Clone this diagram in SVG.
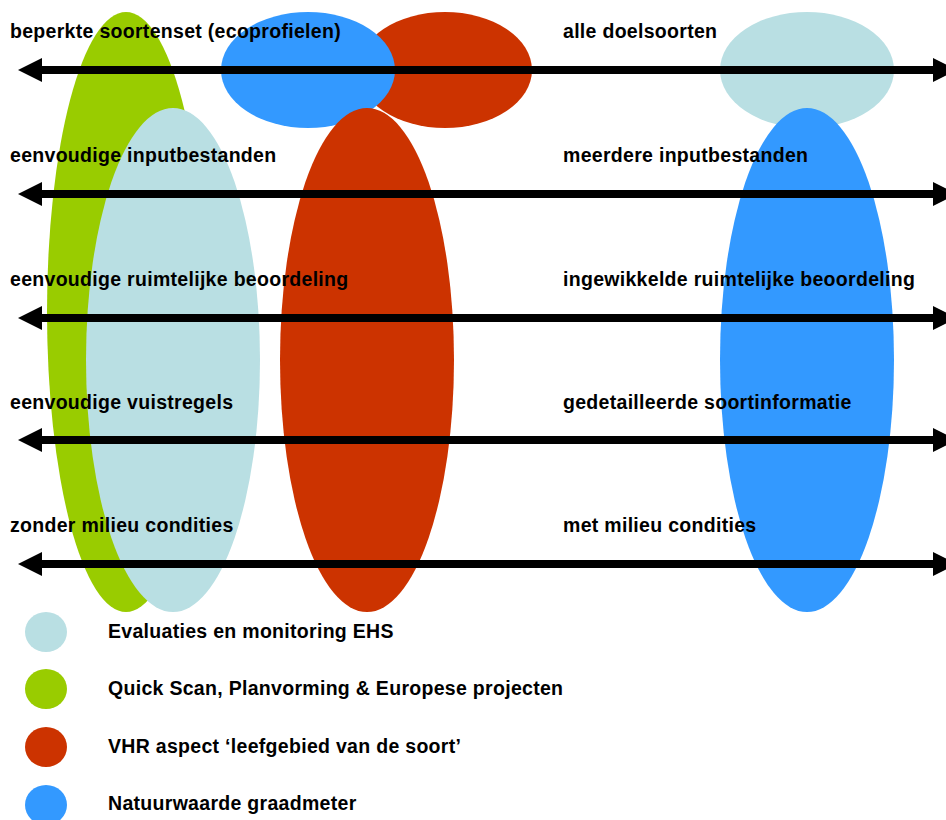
<svg xmlns="http://www.w3.org/2000/svg" width="946" height="820" viewBox="0 0 946 820">
<defs>
<style>
.t{font-family:"Liberation Sans",Arial,sans-serif;font-weight:bold;font-size:19.5px;letter-spacing:0.3px;fill:#000}
.ax{stroke:#000;stroke-width:8;fill:none}
.lb{fill:#B9DFE3}.gr{fill:#99CC00}.rd{fill:#CC3300}.bl{fill:#3399FF}
</style>
<marker id="ah" viewBox="0 0 24 24" refX="2" refY="12" markerWidth="24" markerHeight="24" markerUnits="userSpaceOnUse" orient="auto-start-reverse">
<path d="M0,0 L24,12 L0,24 z" fill="#000"/>
</marker>
</defs>
<rect width="946" height="820" fill="#fff"/>
<g id="quickscan"><ellipse class="gr" cx="126" cy="312" rx="79" ry="300"/></g>
<g id="evaluaties"><ellipse class="lb" cx="173" cy="360" rx="87" ry="252"/></g>
<g id="vhr-top"><ellipse class="rd" cx="445" cy="70" rx="87" ry="58"/></g>
<g id="ngm-top"><ellipse class="bl" cx="308" cy="70" rx="87" ry="58"/></g>
<g id="vhr"><ellipse class="rd" cx="367" cy="360" rx="87" ry="252"/></g>
<g id="eval-top"><ellipse class="lb" cx="807" cy="70" rx="87" ry="58"/></g>
<g id="ngm"><ellipse class="bl" cx="807" cy="360" rx="87" ry="252"/></g>
<g id="connectors">
<line class="ax" x1="40" y1="70" x2="935" y2="70" marker-start="url(#ah)" marker-end="url(#ah)"/>
<line class="ax" x1="40" y1="194" x2="935" y2="194" marker-start="url(#ah)" marker-end="url(#ah)"/>
<line class="ax" x1="40" y1="318" x2="935" y2="318" marker-start="url(#ah)" marker-end="url(#ah)"/>
<line class="ax" x1="40" y1="440" x2="935" y2="440" marker-start="url(#ah)" marker-end="url(#ah)"/>
<line class="ax" x1="40" y1="564" x2="935" y2="564" marker-start="url(#ah)" marker-end="url(#ah)"/>
</g>
<g id="labels">
<text class="t" x="10" y="38">beperkte soortenset (ecoprofielen)</text>
<text class="t" x="563" y="38">alle doelsoorten</text>
<text class="t" x="10" y="162">eenvoudige inputbestanden</text>
<text class="t" x="563" y="162">meerdere inputbestanden</text>
<text class="t" x="10" y="286">eenvoudige ruimtelijke beoordeling</text>
<text class="t" x="563" y="286">ingewikkelde ruimtelijke beoordeling</text>
<text class="t" x="10" y="409">eenvoudige vuistregels</text>
<text class="t" x="563" y="409">gedetailleerde soortinformatie</text>
<text class="t" x="10" y="532">zonder milieu condities</text>
<text class="t" x="563" y="532">met milieu condities</text>
</g>
<g id="legend">
<g id="leg-eval"><ellipse class="lb" cx="46" cy="632" rx="21" ry="20"/><text class="t" x="108" y="638">Evaluaties en monitoring EHS</text></g>
<g id="leg-qs"><ellipse class="gr" cx="46" cy="689" rx="21" ry="20"/><text class="t" x="108" y="695">Quick Scan, Planvorming &amp; Europese projecten</text></g>
<g id="leg-vhr"><ellipse class="rd" cx="46" cy="747" rx="21" ry="20"/><text class="t" x="108" y="753">VHR aspect ‘leefgebied van de soort’</text></g>
<g id="leg-ngm"><ellipse class="bl" cx="46" cy="805" rx="21" ry="20"/><text class="t" x="108" y="810">Natuurwaarde graadmeter</text></g>
</g>
</svg>
